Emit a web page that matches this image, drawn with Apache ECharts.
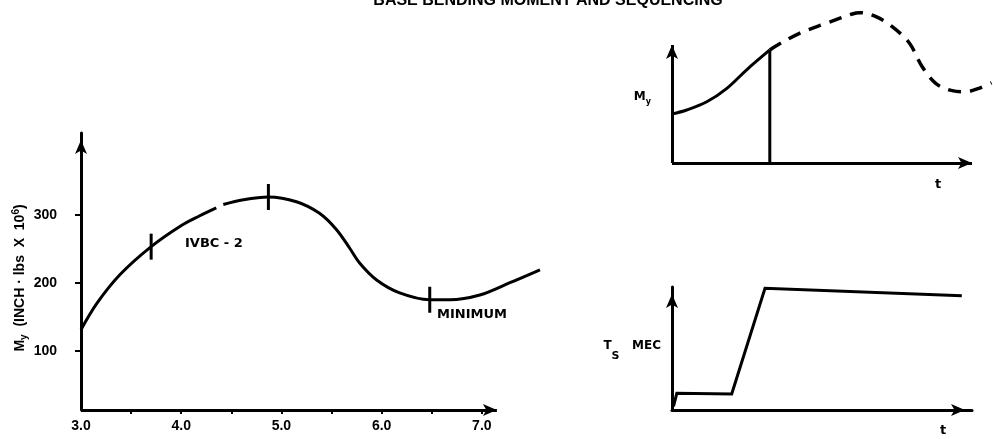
<!DOCTYPE html>
<html><head><meta charset="utf-8">
<script src="https://cdn.jsdelivr.net/npm/echarts@6/dist/echarts.min.js"></script>
<style>html,body{margin:0;padding:0;background:#fff}#c{width:993px;height:439px}</style>
</head><body><div id="c"></div>
<script>
// ---- Main chart: base bending moment vs time ----
const curve1X = [3.00, 3.16, 3.39, 3.70, 3.99, 4.18, 4.35];
const curve1Y = [131, 170, 212, 253, 283, 298, 310];
const curve2X = [4.42, 4.62, 4.87, 5.15, 5.38, 5.55, 5.68, 5.78, 5.95, 6.18, 6.48, 6.68, 6.98, 7.28, 7.58];
const curve2Y = [315, 322, 326, 319, 302, 278, 251, 229, 204, 185, 175, 175, 182, 200, 219];
const markX = [3.70, 4.87, 6.48];
const markY = [253, 326, 175];
const xTicks = [3.5, 4.0, 4.5, 5.0, 5.5, 6.0, 6.5, 7.0];
const xLabels = [3.0, 4.0, 5.0, 6.0, 7.0];
const yLabels = [100, 200, 300];
const mainXAxisEnd = 7.15;   // where the drawn x-axis arrow ends
const mainYBase = 13;        // value at which the x-axis is drawn

// ---- Top right sketch: M_y vs t (normalized units) ----
const myT = [0, 0.49, 1.16, 1.83, 2.48, 3.26];
const myV = [4.15, 4.49, 5.19, 6.33, 7.88, 9.58];
const cutT = [3.26, 3.26];
const cutV = [9.58, 0];
const predT = [3.26, 3.52, 4.25, 5.14, 6.01, 6.25, 6.80, 7.34, 7.91, 8.34, 8.79, 9.34, 9.79, 10.23, 10.65];
const predV = [9.58, 10.0, 10.99, 11.84, 12.63, 12.74, 12.40, 11.55, 10.17, 8.16, 6.75, 6.13, 6.04, 6.33, 6.80];
const sketchTEnd = 10;
const sketchVEnd = 10;

// ---- Bottom right sketch: T_S MEC vs t ----
const tsT = [0.05, 0.16, 1.99, 3.10, 9.66];
const tsV = [0.3, 1.36, 1.30, 9.89, 9.29];

const zip = (a, b) => a.map((v, i) => [v, b[i]]);
const FONT = "'Liberation Sans', Arial, sans-serif";
const WIDE = "'DejaVu Sans', 'Liberation Sans', sans-serif";
const BLACK = '#000';

const axisLineArrow = {
  show: true,
  lineStyle: { color: BLACK, width: 3 },
  symbol: ['none', 'arrow'],
  symbolSize: [9, 14],
  symbolOffset: [0, -7]
};
const arrowMarkLine = (segments) => ({
  silent: true,
  symbol: ['none', 'arrow'],
  symbolSize: [9, 14],
  label: { show: false },
  emphasis: { disabled: true },
  lineStyle: { color: BLACK, width: 3, type: 'solid' },
  data: segments
});
const plainAxis = (gi, max, line) => ({
  gridIndex: gi, type: 'value', min: 0, max: max,
  axisLine: line ? axisLineArrow : { show: false },
  axisTick: { show: false }, axisLabel: { show: false }, splitLine: { show: false }
});

const chart = echarts.init(document.getElementById('c'), null, { renderer: 'canvas' });
const option = {
  backgroundColor: '#fff',
  animation: false,
  grid: [
    { left: 81, right: 441, top: 133, bottom: 29 },
    { left: 672, right: -1, top: 9.6, bottom: 276 },
    { left: 672, right: 21, top: 287, bottom: 29 }
  ],
  xAxis: [
    {
      gridIndex: 0, type: 'value', min: 3.0, max: 7.7,
      axisLine: { show: false },
      axisTick: { show: true, customValues: xTicks, length: 4, lineStyle: { color: BLACK, width: 2 } },
      axisLabel: { show: true, customValues: xLabels, formatter: v => v.toFixed(1), color: BLACK,
                   fontFamily: FONT, fontWeight: 'bold', fontSize: 14, margin: 9 },
      splitLine: { show: false }
    },
    plainAxis(1, 10.7, false), plainAxis(2, 10, true)
  ],
  yAxis: [
    {
      gridIndex: 0, type: 'value', min: mainYBase, max: 420,
      axisLine: axisLineArrow,
      axisTick: { show: true, customValues: yLabels, length: 6, lineStyle: { color: BLACK, width: 2 } },
      axisLabel: { show: true, customValues: yLabels, color: BLACK, fontFamily: FONT, fontWeight: 'bold',
                   fontSize: 14, margin: 24 },
      splitLine: { show: false }
    },
    plainAxis(1, 13, false), plainAxis(2, 10, true)
  ],
  series: [
    { type: 'line', xAxisIndex: 0, yAxisIndex: 0, data: zip(curve1X, curve1Y), smooth: 0.35, showSymbol: false,
      lineStyle: { color: BLACK, width: 3 },
      markLine: arrowMarkLine([[{ coord: [curve1X[0], mainYBase] }, { coord: [mainXAxisEnd, mainYBase] }]]) },
    { type: 'line', xAxisIndex: 0, yAxisIndex: 0, data: zip(curve2X, curve2Y), smooth: 0.35, showSymbol: false,
      lineStyle: { color: BLACK, width: 3 } },
    { type: 'scatter', xAxisIndex: 0, yAxisIndex: 0, data: zip(markX, markY), symbol: 'rect',
      symbolSize: [3, 26], itemStyle: { color: BLACK, opacity: 1 }, emphasis: { disabled: true } },
    { type: 'line', xAxisIndex: 1, yAxisIndex: 1, data: zip(myT, myV), smooth: 0.35, showSymbol: false,
      lineStyle: { color: BLACK, width: 3 },
      markLine: arrowMarkLine([
        [{ coord: [0, 0] }, { coord: [sketchTEnd, 0] }],
        [{ coord: [0, 0] }, { coord: [0, sketchVEnd] }]
      ]) },
    { type: 'line', xAxisIndex: 1, yAxisIndex: 1, data: zip(cutT, cutV), showSymbol: false,
      lineStyle: { color: BLACK, width: 3 } },
    { type: 'line', xAxisIndex: 1, yAxisIndex: 1, data: zip(predT, predV), smooth: 0.35, showSymbol: false,
      lineStyle: { color: BLACK, width: 3.5, type: [13, 9] } },
    { type: 'line', xAxisIndex: 2, yAxisIndex: 2, data: zip(tsT, tsV), showSymbol: false,
      lineStyle: { color: BLACK, width: 3, join: 'miter' } }
  ],
  graphic: [
    { type: 'text', x: 548, y: 1, style: { text: 'BASE BENDING MOMENT AND SEQUENCING', fill: BLACK,
      font: "bold 16px 'Liberation Sans', Arial, sans-serif", align: 'center', verticalAlign: 'middle' } },
    { type: 'text', x: 185, y: 244, style: { text: 'IVBC - 2', fill: BLACK,
      font: "bold 13px 'DejaVu Sans', sans-serif", align: 'left', verticalAlign: 'middle' } },
    { type: 'text', x: 437, y: 315, style: { text: 'MINIMUM', fill: BLACK,
      font: "bold 13px 'DejaVu Sans', sans-serif", align: 'left', verticalAlign: 'middle' } },
    { type: 'text', x: 20, y: 278, rotation: Math.PI / 2, style: {
      text: '{b|M}{s|y}{b|  (INCH · lbs  X  10}{p|6}{b|)}', align: 'center', verticalAlign: 'middle',
      rich: {
        b: { fill: BLACK, fontFamily: FONT, fontWeight: 'bold', fontSize: 14, lineHeight: 18, verticalAlign: 'middle' },
        s: { fill: BLACK, fontFamily: FONT, fontWeight: 'bold', fontSize: 10, lineHeight: 18, verticalAlign: 'bottom' },
        p: { fill: BLACK, fontFamily: FONT, fontWeight: 'bold', fontSize: 10, lineHeight: 18, verticalAlign: 'top' }
      } } },
    { type: 'text', x: 651, y: 97, style: {
      text: '{b|M}{s|y}', align: 'right', verticalAlign: 'middle',
      rich: {
        b: { fill: BLACK, fontFamily: WIDE, fontWeight: 'bold', fontSize: 12, lineHeight: 18, verticalAlign: 'middle' },
        s: { fill: BLACK, fontFamily: WIDE, fontWeight: 'bold', fontSize: 8, lineHeight: 18, verticalAlign: 'bottom' }
      } } },
    { type: 'text', x: 661, y: 351, style: {
      text: '{b|T}{s|S}{b|   MEC}', align: 'right', verticalAlign: 'middle',
      rich: {
        b: { fill: BLACK, fontFamily: WIDE, fontWeight: 'bold', fontSize: 12, lineHeight: 22, verticalAlign: 'top' },
        s: { fill: BLACK, fontFamily: WIDE, fontWeight: 'bold', fontSize: 11, lineHeight: 22, verticalAlign: 'bottom' }
      } } },
    { type: 'text', x: 938, y: 185, style: { text: 't', fill: BLACK,
      font: "bold 13px 'DejaVu Sans', sans-serif", align: 'center', verticalAlign: 'middle' } },
    { type: 'text', x: 943, y: 431, style: { text: 't', fill: BLACK,
      font: "bold 13px 'DejaVu Sans', sans-serif", align: 'center', verticalAlign: 'middle' } }
  ]
};
chart.setOption(option);
</script>
</body></html>
